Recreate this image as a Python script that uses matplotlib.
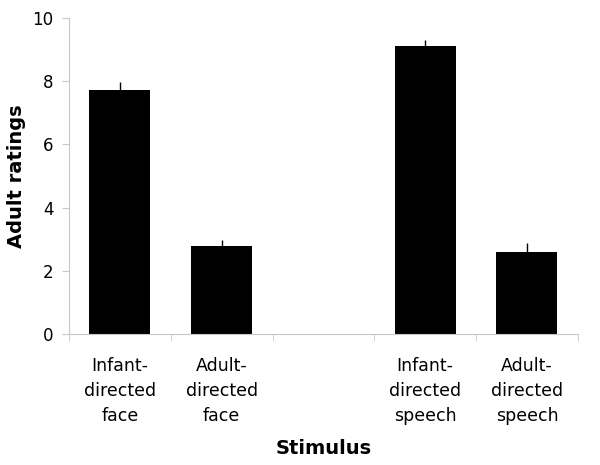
import numpy as np
import matplotlib
matplotlib.use('Agg')
import matplotlib.pyplot as plt

# valores
categorias = ['Infant-\ndirected\nface', 'Adult-\ndirected\nface', '',
              'Infant-\ndirected\nspeech', 'Adult-\ndirected\nspeech']
medias = [7.72, 2.78, np.nan, 9.11, 2.59]
erros = [0.25, 0.20, 0.0, 0.19, 0.28]

def main():
    plt.rcParams['font.family'] = 'DejaVu Sans'
    fig = plt.figure(figsize=(6, 4.65), dpi=100)
    ax = fig.add_axes([0.115, 0.282, 0.848, 0.679])

    x = np.arange(len(categorias))
    ax.bar(x, medias, width=0.6, color='black',
           yerr=[np.zeros(len(erros)), erros],
           error_kw=dict(ecolor='black', elinewidth=1, capsize=0))

    ax.set_xlim(-0.5, len(categorias) - 0.5)
    ax.set_ylim(0, 10)
    ax.set_yticks([0, 2, 4, 6, 8, 10])

    # rótulos no centro, marcas nas divisões
    ax.set_xticks(x)
    ax.set_xticklabels(categorias, fontsize=12.5, linespacing=1.5)
    ax.set_xticks(np.arange(len(categorias) + 1) - 0.5, minor=True)
    ax.tick_params(axis='x', which='major', length=0, pad=17)
    ax.tick_params(axis='x', which='minor', length=5, color='#c8c8c8', direction='out')
    ax.tick_params(axis='y', length=5, color='#c8c8c8', labelsize=12, pad=6)

    for s in ['top', 'right']:
        ax.spines[s].set_visible(False)
    for s in ['left', 'bottom']:
        ax.spines[s].set_color('#c8c8c8')

    ax.set_ylabel('Adult ratings', fontsize=14, fontweight='bold')
    ax.yaxis.set_label_coords(-0.085, 0.5)
    ax.set_xlabel('Stimulus', fontsize=14, fontweight='bold', labelpad=10)

    fig.savefig('out.png', dpi=100)

if __name__ == '__main__':
    main()
